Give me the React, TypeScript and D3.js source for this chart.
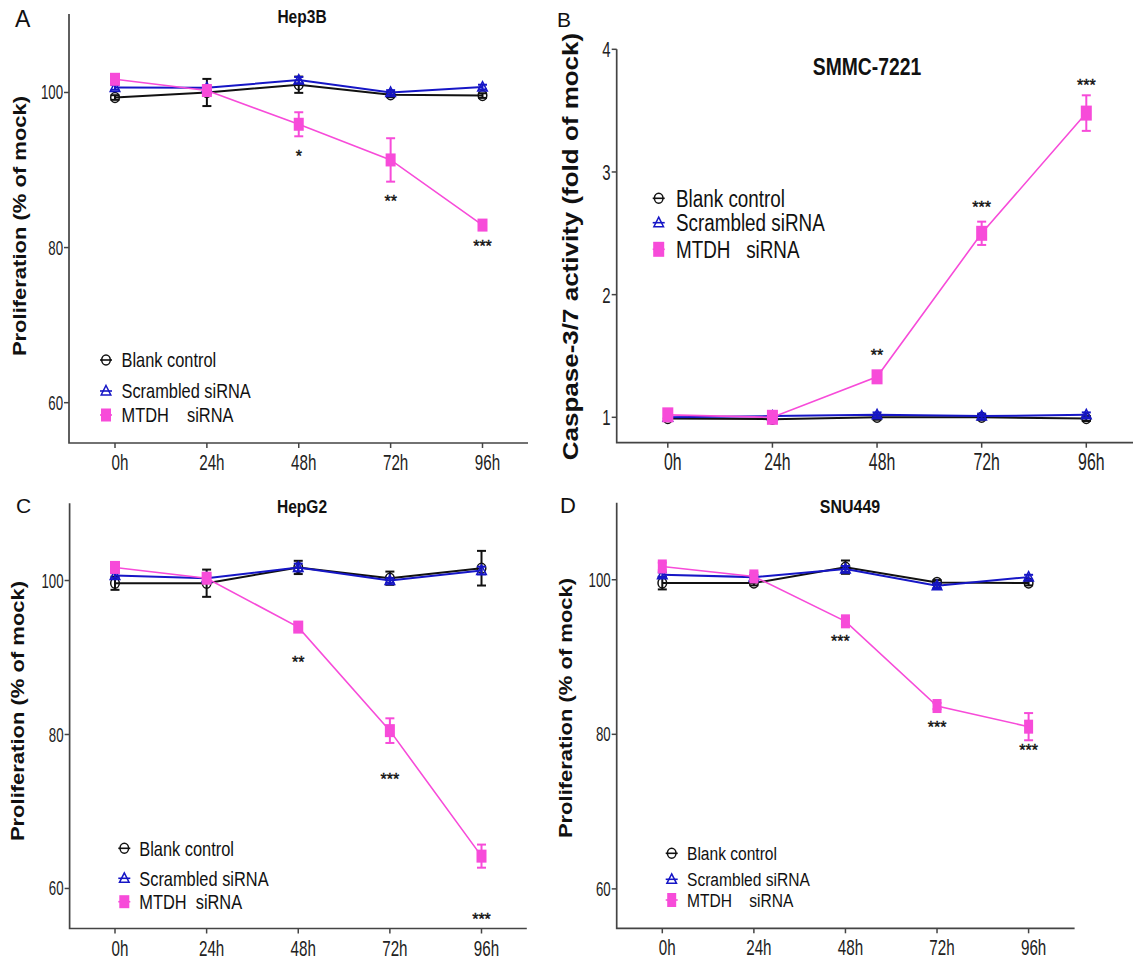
import React from "react";
import * as d3 from "d3";

const timepoints = ["0h", "24h", "48h", "72h", "96h"];

// A: Hep3B proliferation (% of mock)
const hep3bBlank = [99.35, 100.0, 101.0, 99.7, 99.6];
const hep3bBlankErr = [0.3, 1.75, 1.05, 0.3, 0.3];
const hep3bScrambled = [100.65, 100.6, 101.6, 100.0, 100.7];
const hep3bScrambledErr = [0.3, 0.3, 0.4, 0.3, 0.3];
const hep3bMtdh = [101.7, 100.25, 95.9, 91.3, 82.9];
const hep3bMtdhErr = [0.4, 0.4, 1.55, 2.8, 0.4];
const hep3bStars = ["", "", "*", "**", "***"];
const hep3bStarAt = [0, 0, 92.15, 86.35, 80.6];

// B: SMMC-7221 caspase-3/7 activity (fold of mock)
const smmcBlank = [0.99, 0.985, 1.0, 1.0, 0.99];
const smmcBlankErr = [0.02, 0.02, 0.02, 0.02, 0.02];
const smmcScrambled = [1.0, 1.01, 1.02, 1.01, 1.02];
const smmcScrambledErr = [0.02, 0.02, 0.02, 0.02, 0.02];
const smmcMtdh = [1.02, 1.0, 1.33, 2.5, 3.48];
const smmcMtdhErr = [0.03, 0.03, 0.03, 0.095, 0.145];
const smmcStars = ["", "", "**", "***", "***"];
const smmcStarAt = [0, 0, 1.53, 2.74, 3.73];

// C: HepG2 proliferation
const hepg2Blank = [99.65, 99.65, 101.7, 100.3, 101.6];
const hepg2BlankErr = [0.86, 1.77, 0.86, 0.86, 2.25];
const hepg2Scrambled = [100.65, 100.3, 101.7, 100.0, 101.3];
const hepg2ScrambledErr = [0.3, 0.3, 0.5, 0.3, 0.5];
const hepg2Mtdh = [101.7, 100.3, 93.95, 80.5, 64.2];
const hepg2MtdhErr = [0.6, 0.4, 0.4, 1.6, 1.5];
const hepg2Stars = ["", "", "**", "***", "***"];
const hepg2StarAt = [0, 0, 89.85, 74.6, 56.45];

// D: SNU449 proliferation
const snuBlank = [99.57, 99.57, 101.63, 99.66, 99.57];
const snuBlankErr = [0.82, 0.3, 0.86, 0.3, 0.3];
const snuScrambled = [100.65, 100.34, 101.38, 99.23, 100.34];
const snuScrambledErr = [0.3, 0.3, 0.4, 0.3, 0.3];
const snuMtdh = [101.72, 100.43, 94.62, 83.66, 80.99];
const snuMtdhErr = [0.5, 0.5, 0.4, 0.4, 1.76];
const snuStars = ["", "", "***", "***", "***"];
const snuStarAt = [0, 0, 92.47, 81.29, 78.37];

const prolifTicks = [60, 80, 100];
const caspaseTicks = [1, 2, 3, 4];

const PINK = "#f74bd9";
const BLUE = "#1616c6";
const BLACK = "#111111";
const AXIS = "#444444";
const FONT = "'Liberation Sans', Arial, Helvetica, sans-serif";

type Shape = "circle" | "triangle" | "square";
type Series = { values: number[]; err: number[]; color: string; shape: Shape; lw: number };

const makeSeries = (blank: number[], be: number[], scr: number[], se: number[], mt: number[], me: number[]): Series[] => [
  { values: blank, err: be, color: BLACK, shape: "circle", lw: 2 },
  { values: scr, err: se, color: BLUE, shape: "triangle", lw: 2 },
  { values: mt, err: me, color: PINK, shape: "square", lw: 1.6 },
];

const SText = ({ x, y, sx = 1, rot = 0, children, ...rest }: any) => (
  <text
    transform={`translate(${x},${y}) scale(${sx},1)${rot ? ` rotate(${rot})` : ""}`}
    fontFamily={FONT}
    style={{ whiteSpace: "pre" }}
    {...rest}
  >
    {children}
  </text>
);

const Marker = ({ shape, x, y, color, sq }: { shape: Shape; x: number; y: number; color: string; sq: number[] }) => {
  if (shape === "circle")
    return <ellipse cx={x} cy={y} rx={4.3} ry={5} fill="none" stroke={color} strokeWidth={1.5} />;
  if (shape === "triangle")
    return (
      <path
        d={`M${x},${y - 5.5}L${x + 4.8},${y + 4}L${x - 4.8},${y + 4}Z`}
        fill="none"
        stroke={color}
        strokeWidth={1.5}
      />
    );
  return <rect x={x - sq[0] / 2} y={y - sq[1] / 2} width={sq[0]} height={sq[1]} fill={color} />;
};

const Panel = ({ cfg }: { cfg: any }) => {
  const x = d3.scalePoint<string>().domain(timepoints).range([cfg.x0, cfg.x1]);
  const y = d3.scaleLinear().domain(cfg.yDomain).range([cfg.bottom, cfg.top]);
  const line = d3
    .line<number>()
    .x((_, i) => x(timepoints[i]) as number)
    .y((v) => y(v));
  const legendShapes: Shape[] = ["circle", "triangle", "square"];
  return (
    <g>
      <SText x={cfg.letterX} y={cfg.letterY} fontSize={cfg.letterSize} fill="#111">
        {cfg.letter}
      </SText>
      <SText x={cfg.titleX} y={cfg.titleY} sx={0.84} fontSize={cfg.titleSize} fontWeight="bold" textAnchor="middle" fill="#111">
        {cfg.title}
      </SText>
      <SText
        x={cfg.yLabelX}
        y={cfg.yLabelY}
        sx={0.85}
        rot={-90}
        fontSize={cfg.yLabelSize}
        fontWeight="bold"
        textAnchor="middle"
        dominantBaseline="central"
        fill="#111"
      >
        {cfg.yLabel}
      </SText>

      {/* axes */}
      <path d={`M${cfg.left},${cfg.top}V${cfg.bottom}H${cfg.right}`} fill="none" stroke={AXIS} strokeWidth={1.7} />
      {cfg.yTicks.map((t: number) => (
        <g key={t}>
          <line x1={cfg.left - 5} x2={cfg.left} y1={y(t)} y2={y(t)} stroke={AXIS} strokeWidth={1.5} />
          <SText x={cfg.left - 6} y={y(t) + cfg.yTickSize * 0.36} sx={0.68} fontSize={cfg.yTickSize} textAnchor="end" fill="#222">
            {t}
          </SText>
        </g>
      ))}
      {timepoints.map((t) => (
        <g key={t}>
          <line x1={x(t)} x2={x(t)} y1={cfg.bottom} y2={cfg.bottom + 5} stroke={AXIS} strokeWidth={1.5} />
          <SText x={(x(t) as number) + 5} y={cfg.bottom + 27} sx={0.69} fontSize={cfg.xTickSize} textAnchor="middle" fill="#222">
            {t}
          </SText>
        </g>
      ))}

      {/* series */}
      {cfg.series.map((s: Series, si: number) => (
        <g key={si}>
          <path d={line(s.values) || ""} fill="none" stroke={s.color} strokeWidth={s.lw} />
          {s.values.map((v, i) => {
            const cx = x(timepoints[i]) as number;
            const y1 = y(v + s.err[i]);
            const y2 = y(v - s.err[i]);
            return (
              <g key={i} stroke={s.color} strokeWidth={2}>
                <line x1={cx} x2={cx} y1={y1} y2={y2} />
                <line x1={cx - 4.5} x2={cx + 4.5} y1={y1} y2={y1} />
                <line x1={cx - 4.5} x2={cx + 4.5} y1={y2} y2={y2} />
              </g>
            );
          })}
          {s.values.map((v, i) => (
            <Marker key={i} shape={s.shape} x={x(timepoints[i]) as number} y={y(v)} color={s.color} sq={cfg.sq} />
          ))}
        </g>
      ))}

      {/* significance */}
      {cfg.stars.map((st: string, i: number) =>
        st ? (
          <SText
            key={i}
            x={(x(timepoints[i]) as number) + (cfg.starDx ? cfg.starDx[i] : 0)}
            y={y(cfg.starAt[i]) + 9}
            fontSize={16}
            textAnchor="middle"
            fill="#111"
            stroke="#111"
            strokeWidth={0.4}
          >
            {st}
          </SText>
        ) : null
      )}

      {/* legend */}
      {cfg.legend.map((lab: string, i: number) => {
        const ly = cfg.legendY[i];
        const s = cfg.series[i];
        return (
          <g key={lab}>
            <line x1={cfg.legendX - 6} x2={cfg.legendX + 6} y1={ly} y2={ly} stroke={s.color} strokeWidth={1.6} />
            <Marker shape={legendShapes[i]} x={cfg.legendX} y={ly} color={s.color} sq={cfg.sq} />
            <SText x={cfg.legendTextX} y={ly + cfg.legendSize * 0.36} sx={0.82} fontSize={cfg.legendSize} fill="#111">
              {lab}
            </SText>
          </g>
        );
      })}
    </g>
  );
};

const panels = [
  {
    letter: "A", letterX: 15, letterY: 27, letterSize: 23,
    title: "Hep3B", titleX: 302, titleY: 23, titleSize: 18.5,
    yLabel: "Proliferation (% of mock)", yLabelX: 19.5, yLabelY: 226, yLabelSize: 22,
    left: 69, top: 14, bottom: 443, right: 528, x0: 115, x1: 482.5,
    yDomain: [54.8, 110.12], yTicks: prolifTicks, yTickSize: 19.5, xTickSize: 22,
    series: makeSeries(hep3bBlank, hep3bBlankErr, hep3bScrambled, hep3bScrambledErr, hep3bMtdh, hep3bMtdhErr),
    stars: hep3bStars, starAt: hep3bStarAt,
    legend: ["Blank control", "Scrambled siRNA", "MTDH    siRNA"],
    legendX: 106, legendTextX: 121.5, legendY: [360, 391, 415], legendSize: 20,
    sq: [10, 13],
  },
  {
    letter: "B", letterX: 557, letterY: 27, letterSize: 21,
    title: "SMMC-7221", titleX: 867, titleY: 75, titleSize: 23,
    yLabel: "Caspase-3/7 activity (fold of mock)", yLabelX: 570, yLabelY: 246.5, yLabelSize: 26,
    left: 616.7, top: 49.3, bottom: 442.7, right: 1133, x0: 667.8, x1: 1086.3,
    yDomain: [0.793, 4.0], yTicks: caspaseTicks, yTickSize: 22, xTickSize: 23,
    series: makeSeries(smmcBlank, smmcBlankErr, smmcScrambled, smmcScrambledErr, smmcMtdh, smmcMtdhErr),
    stars: smmcStars, starAt: smmcStarAt,
    legend: ["Blank control", "Scrambled siRNA", "MTDH   siRNA"],
    legendX: 658.7, legendTextX: 676, legendY: [198.3, 222.7, 249.3], legendSize: 23,
    sq: [11, 15],
  },
  {
    letter: "C", letterX: 16, letterY: 513, letterSize: 21,
    title: "HepG2", titleX: 302, titleY: 513, titleSize: 18.5,
    yLabel: "Proliferation (% of mock)", yLabelX: 17.5, yLabelY: 711, yLabelSize: 22,
    left: 69.6, top: 503.3, bottom: 928.5, right: 526.8, x0: 115, x1: 481.5,
    yDomain: [54.8, 110.03], yTicks: prolifTicks, yTickSize: 19.5, xTickSize: 22,
    series: makeSeries(hepg2Blank, hepg2BlankErr, hepg2Scrambled, hepg2ScrambledErr, hepg2Mtdh, hepg2MtdhErr),
    stars: hepg2Stars, starAt: hepg2StarAt,
    legend: ["Blank control", "Scrambled siRNA", "MTDH  siRNA"],
    legendX: 124.3, legendTextX: 139.3, legendY: [848.3, 878.3, 901.7], legendSize: 20,
    sq: [10, 13],
  },
  {
    letter: "D", letterX: 560, letterY: 513, letterSize: 22,
    title: "SNU449", titleX: 850, titleY: 513, titleSize: 19,
    yLabel: "Proliferation (% of mock)", yLabelX: 566, yLabelY: 708, yLabelSize: 22,
    left: 616.7, top: 502.7, bottom: 928.3, right: 1074.6, x0: 662.3, x1: 1028.6,
    yDomain: [54.9, 109.97], yTicks: prolifTicks, yTickSize: 19.5, xTickSize: 22,
    series: makeSeries(snuBlank, snuBlankErr, snuScrambled, snuScrambledErr, snuMtdh, snuMtdhErr),
    stars: snuStars, starAt: snuStarAt, starDx: [0, 0, -5, 0, 0],
    legend: ["Blank control", "Scrambled siRNA", "MTDH    siRNA"],
    legendX: 671.7, legendTextX: 687, legendY: [853.3, 879.3, 900], legendSize: 19,
    sq: [9, 14],
  },
];

export default function App() {
  return (
    <svg
      width={1133}
      height={959}
      viewBox="0 0 1133 959"
      style={{ position: "absolute", left: 0, top: 0, background: "#fff", display: "block" }}
    >
      <rect width={1133} height={959} fill="#fff" />
      {panels.map((p) => (
        <Panel key={p.letter} cfg={p} />
      ))}
    </svg>
  );
}
